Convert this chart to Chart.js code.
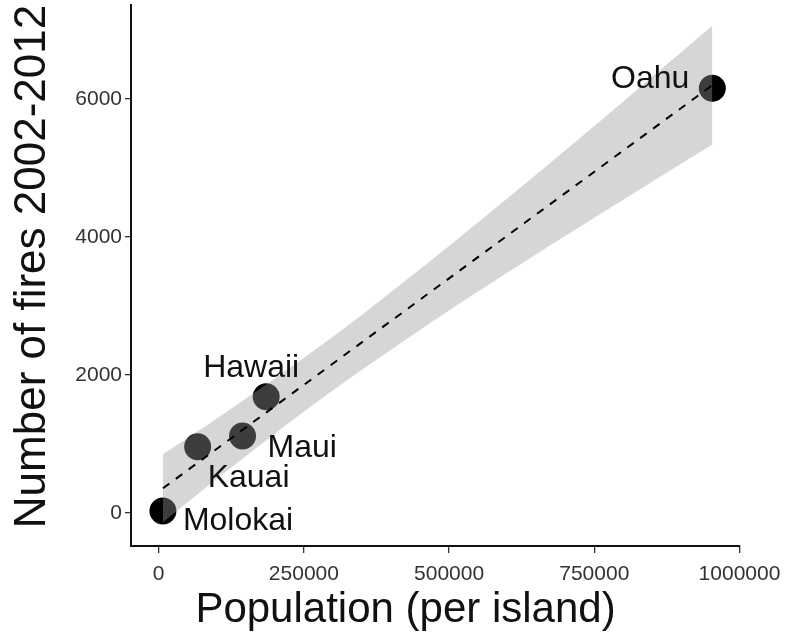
<!DOCTYPE html>
<html>
<head>
<meta charset="utf-8">
<script src="https://cdn.jsdelivr.net/npm/chart.js@4/dist/chart.umd.min.js"></script>
<style>
  html, body { margin: 0; padding: 0; background: #fff; }
  #wrap { width: 793px; height: 634px; }
</style>
</head>
<body>
<div id="wrap"><canvas id="c" width="793" height="634"></canvas></div>
<script>
// ---- data ----
const islands = ['Molokai', 'Kauai', 'Maui', 'Hawaii', 'Oahu'];
const population = [7300, 67100, 144400, 185100, 953200];
const fires = [29, 961, 1116, 1686, 6155];

// fitted regression line (dashed), end points
const fitX = [7300, 953200];
const fitY = [358, 6200];

// confidence band edges
const bandX = [7300, 100000, 200000, 271400, 350000, 500000, 650000, 800000, 953200];
const bandUpper = [850, 1370, 1950, 2380, 2875, 3870, 4905, 5965, 7060];
const bandLower = [-135, 495, 1150, 1600, 2075, 2935, 3750, 4540, 5340];

// tick values
const xTicks = [0, 250000, 500000, 750000, 1000000];
const yTicks = [0, 2000, 4000, 6000];

// axis titles
const xTitle = 'Population (per island)';
const yTitle = 'Number of fires 2002-2012';

// ---- build ----
const zip = (xs, ys) => xs.map((x, i) => ({ x: x, y: ys[i] }));
const FONT = "'Liberation Sans', Arial, Helvetica, sans-serif";

// label placement (pixel offsets from the point centre)
const labelStyle = {
  Molokai: { dx: 20, dy: 19, align: 'left' },
  Kauai:   { dx: 10, dy: 40, align: 'left' },
  Maui:    { dx: 25, dy: 21, align: 'left' },
  Hawaii:  { dx: -63, dy: -20, align: 'left' },
  Oahu:    { dx: -23, dy: 0, align: 'right' }
};

const labelPlugin = {
  id: 'pointLabels',
  afterDatasetsDraw(chart) {
    const ctx = chart.ctx;
    const xs = chart.scales.x, ys = chart.scales.y;
    ctx.save();
    ctx.font = '32px ' + FONT;
    ctx.fillStyle = '#111';
    ctx.textBaseline = 'alphabetic';
    islands.forEach((name, i) => {
      const st = labelStyle[name];
      const px = xs.getPixelForValue(population[i]);
      const py = ys.getPixelForValue(fires[i]);
      ctx.textAlign = st.align;
      ctx.fillText(name, px + st.dx, py + st.dy);
    });
    ctx.restore();
  }
};

// axis titles, placed as in the reference (slightly off the panel centre)
const titlePlugin = {
  id: 'axisTitles',
  afterDraw(chart) {
    const ctx = chart.ctx;
    const a = chart.chartArea;
    ctx.save();
    ctx.fillStyle = '#111';
    ctx.textAlign = 'center';
    ctx.textBaseline = 'alphabetic';
    ctx.font = '42px ' + FONT;
    ctx.fillText(xTitle, (a.left + a.right) / 2 - 30, chart.height - 12);
    ctx.translate(45, (a.top + a.bottom) / 2 - 9);
    ctx.rotate(-Math.PI / 2);
    ctx.font = '44px ' + FONT;
    ctx.fillText(yTitle, 0, 0);
    ctx.restore();
  }
};

const tickCfg = () => ({
  color: '#333',
  font: { family: FONT, size: 21 },
  callback: (v) => String(v)
});

new Chart(document.getElementById('c'), {
  type: 'scatter',
  data: {
    datasets: [
      {
        type: 'line',
        label: 'fit',
        data: zip(fitX, fitY),
        borderColor: '#000',
        borderWidth: 2,
        borderDash: [8, 8],
        pointRadius: 0,
        fill: false,
        order: 0
      },
      {
        type: 'line',
        label: 'upper',
        data: zip(bandX, bandUpper),
        borderWidth: 0,
        borderColor: 'rgba(0,0,0,0)',
        backgroundColor: 'rgba(153,153,153,0.4)',
        pointRadius: 0,
        fill: '+1',
        tension: 0.3,
        order: 1
      },
      {
        type: 'line',
        label: 'lower',
        data: zip(bandX, bandLower),
        borderWidth: 0,
        borderColor: 'rgba(0,0,0,0)',
        pointRadius: 0,
        fill: false,
        tension: 0.3,
        order: 2
      },
      {
        type: 'scatter',
        label: 'islands',
        data: zip(population, fires),
        backgroundColor: '#000',
        borderWidth: 0,
        pointRadius: 13.5,
        pointHoverRadius: 13.5,
        order: 3
      }
    ]
  },
  options: {
    responsive: false,
    animation: false,
    events: [],
    layout: { autoPadding: false, padding: { top: 5, right: 53, bottom: 0, left: 0 } },
    plugins: {
      legend: { display: false },
      tooltip: { enabled: false }
    },
    scales: {
      x: {
        type: 'linear',
        min: -47660,
        max: 1000867,
        afterFit(scale) { scale.height = 88; scale.paddingLeft = 0; scale.paddingRight = 0; },
        afterBuildTicks(scale) { scale.ticks = xTicks.map(v => ({ value: v })); },
        ticks: Object.assign(tickCfg(), { padding: 9, maxRotation: 0, autoSkip: false }),
        grid: {
          display: true, drawOnChartArea: false, drawTicks: true,
          tickLength: 7, color: '#333', lineWidth: 1.3
        },
        border: { display: true, color: '#111', width: 2 },
        title: { display: false, text: xTitle }
      },
      y: {
        type: 'linear',
        min: -478,
        max: 7362,
        afterFit(scale) { scale.width = 131; scale.paddingTop = 0; scale.paddingBottom = 0; },
        afterBuildTicks(scale) { scale.ticks = yTicks.map(v => ({ value: v })); },
        ticks: Object.assign(tickCfg(), { padding: 3 }),
        grid: {
          display: true, drawOnChartArea: false, drawTicks: true,
          tickLength: 6, color: '#333', lineWidth: 1.3
        },
        border: { display: true, color: '#111', width: 2 },
        title: { display: false, text: yTitle }
      }
    }
  },
  plugins: [labelPlugin, titlePlugin]
});
</script>
</body>
</html>
